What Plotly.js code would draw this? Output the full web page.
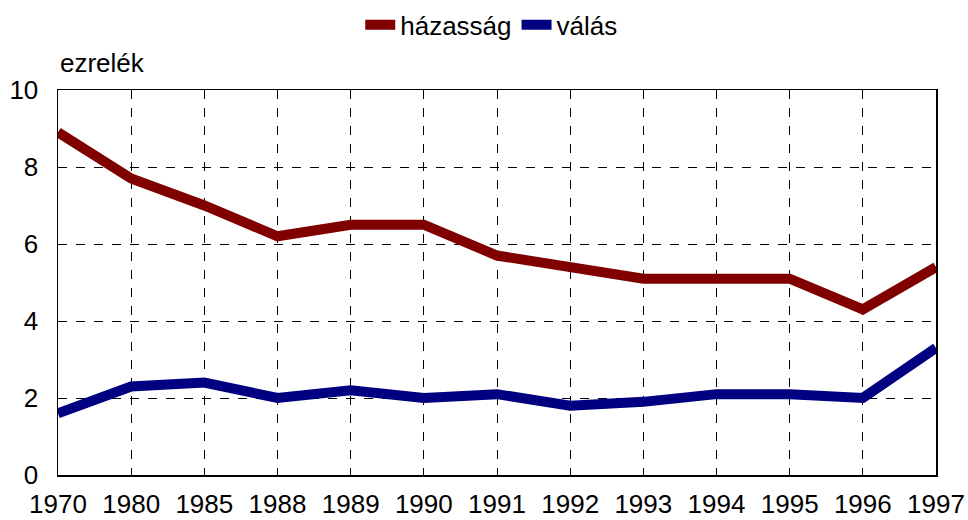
<!DOCTYPE html>
<html>
<head>
<meta charset="utf-8">
<script src="https://cdn.plot.ly/plotly-3.0.1.min.js"></script>
<style>html,body{margin:0;padding:0;background:#fff;}#chart{width:968px;height:520px;}</style>
</head>
<body>
<div id="chart"></div>
<script>
const years = ["1970","1980","1985","1988","1989","1990","1991","1992","1993","1994","1995","1996","1997"];
const hazassag = [8.9,7.7,7.0,6.2,6.5,6.5,5.7,5.4,5.1,5.1,5.1,4.3,5.4];
const valas = [1.6,2.3,2.4,2.0,2.2,2.0,2.1,1.8,1.9,2.1,2.1,2.0,3.3];
const yTicks = [0,2,4,6,8,10];

const font = {family:"Liberation Sans, Arial, sans-serif", size:26, color:"#000"};
const traces = [
  {x:years, y:hazassag, name:"házasság", type:"scatter", mode:"lines",
   line:{color:"#800000", width:10}},
  {x:years, y:valas, name:"válás", type:"scatter", mode:"lines",
   line:{color:"#000080", width:10}}
];
const layout = {
  width:968, height:520,
  margin:{l:58, r:32, t:90, b:45, autoexpand:false},
  paper_bgcolor:"#fff", plot_bgcolor:"#fff",
  font:font,
  showlegend:true,
  legend:{orientation:"h", xref:"container", x:0.508, xanchor:"center",
          yref:"container", y:0.952, yanchor:"middle",
          font:{family:font.family, size:26}, itemwidth:30, tracegroupgap:0},
  xaxis:{type:"category", range:[0,12], showgrid:true, gridcolor:"#000", griddash:"dash",
         gridwidth:1, showline:true, linecolor:"#000", linewidth:1.5, mirror:true,
         ticks:"", tickfont:{size:26}, zeroline:false, ticklabelstandoff:5},
  yaxis:{range:[0,10], tickvals:yTicks, showgrid:true, gridcolor:"#000", griddash:"dash",
         gridwidth:1, showline:true, linecolor:"#000", linewidth:1.5, mirror:true,
         ticks:"", tickfont:{size:26}, zeroline:false, ticklabelstandoff:13},
  annotations:[{text:"ezrelék", xref:"paper", yref:"paper", x:0, y:1.025,
                xanchor:"left", yanchor:"bottom", showarrow:false, font:{size:26}}]
};
Plotly.newPlot("chart", traces, layout, {displayModeBar:false, staticPlot:true});
</script>
</body>
</html>
